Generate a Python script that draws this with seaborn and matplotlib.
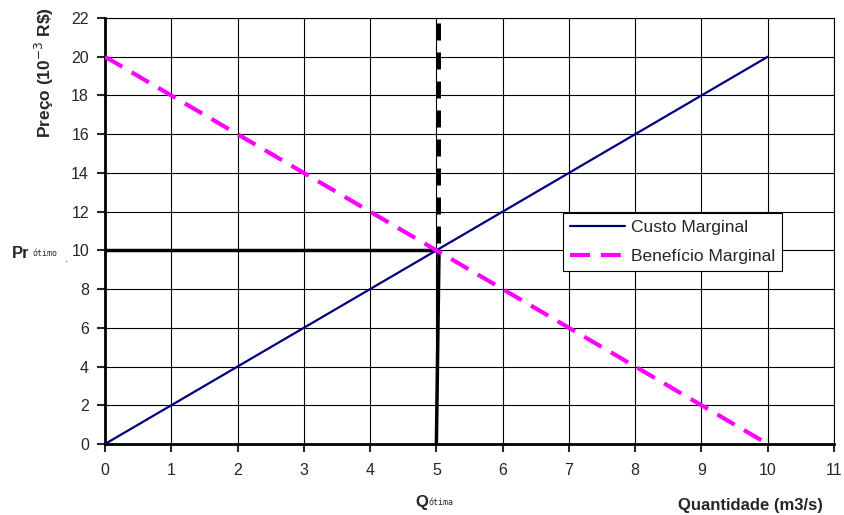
import numpy as np
import pandas as pd
import matplotlib
matplotlib.use("Agg")
import matplotlib.pyplot as plt
import seaborn as sns

# Data
quantidade = [0, 10]
custo_marginal = [0, 20]
beneficio_marginal = [20, 0]
q_otima = 5
p_otimo = 10
x_ticks = list(range(0, 12))
y_ticks = list(range(0, 24, 2))

sns.set_style("white")
plt.rcParams['font.family'] = ['Liberation Sans', 'DejaVu Sans']

df = pd.DataFrame({
    "Quantidade": quantidade * 2,
    "Preco": custo_marginal + beneficio_marginal,
    "Curva": ["Custo Marginal"] * 2 + ["Benefício Marginal"] * 2,
})

fig = plt.figure(figsize=(8.45, 5.15), dpi=100)
ax = fig.add_axes([0.1243, 0.1379, 0.8627, 0.8271])

# optimum guide lines
ax.plot([q_otima + 0.03, q_otima + 0.03], [10.4, 22], color="black", lw=3.6,
        dashes=(3.4, 2.4), zorder=3)
ax.plot([q_otima, q_otima + 0.04], [0, p_otimo], color="black", lw=2.5, zorder=3)
ax.plot([0, q_otima], [p_otimo, p_otimo], color="black", lw=2.5, zorder=3)

sns.lineplot(data=df, x="Quantidade", y="Preco", hue="Curva", style="Curva",
             palette={"Custo Marginal": "#000080", "Benefício Marginal": "#FF00FF"},
             dashes={"Custo Marginal": "", "Benefício Marginal": (4.8, 2.6)},
             ax=ax, zorder=4, legend=False)
for line, lw in zip(ax.lines[-2:], [1.6, 3.0]):
    line.set_linewidth(lw)

ax.set_xlim(0, 11)
ax.set_ylim(0, 22)
ax.set_xticks(x_ticks)
ax.set_yticks(y_ticks)
ax.grid(True, color="black", lw=0.8)
ax.set_axisbelow(True)
for side in ["top", "right"]:
    ax.spines[side].set_color("black")
    ax.spines[side].set_linewidth(0.8)
for side in ["left", "bottom"]:
    ax.spines[side].set_color("black")
    ax.spines[side].set_linewidth(2.0)
ax.tick_params(axis="y", direction="out", length=6, width=1.5, pad=5.5,
               labelsize=11.5, left=True)
ax.tick_params(axis="x", direction="out", length=6, width=1.5, pad=8,
               labelsize=11.5, bottom=True)
ax.set_xlabel("")
ax.set_ylabel("")

fig.text(0.053, 0.86, "Preço (10$^{-3}$ R\\$)", rotation=90, fontsize=12.5,
         fontweight="bold", ha="center", va="center")
fig.text(0.974, 0.010, "Quantidade (m3/s)", fontsize=12, fontweight="bold",
         ha="right", va="baseline")
fig.text(0.491, 0.016, "Q", fontsize=12, fontweight="bold", ha="left", va="baseline")
fig.text(0.507, 0.019, "ótima", fontsize=6, family="DejaVu Sans Mono",
         ha="left", va="baseline")
fig.text(0.014, 0.499, "Pr", fontsize=12, fontweight="bold", ha="left", va="baseline")
fig.text(0.039, 0.503, "ótimo", fontsize=6, family="DejaVu Sans Mono",
         ha="left", va="baseline")
fig.text(0.079, 0.492, ".", fontsize=8, ha="center", va="baseline")

handles = [plt.Line2D([], [], color="#000080", lw=1.6),
           plt.Line2D([], [], color="#FF00FF", lw=3.0, dashes=(4.8, 2.6))]
leg = ax.legend(handles, ["Custo Marginal", "Benefício Marginal"],
                loc="upper left", bbox_to_anchor=(0.628, 0.542), fontsize=12.5,
                frameon=True, fancybox=False, framealpha=1, edgecolor="black",
                borderpad=0.4, handlelength=3.2, handletextpad=0.3,
                labelspacing=0.8, borderaxespad=0)
leg.get_frame().set_linewidth(0.8)

fig.savefig("out.png", dpi=100)
